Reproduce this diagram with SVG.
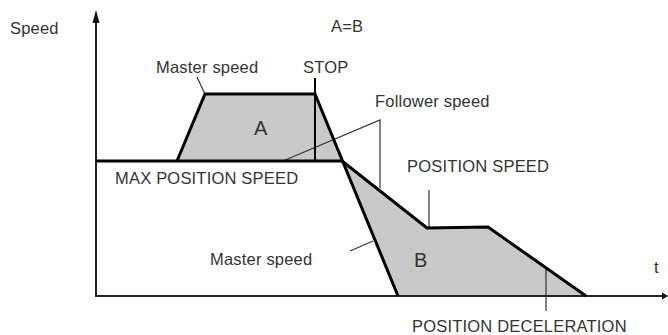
<svg xmlns="http://www.w3.org/2000/svg" width="668" height="335" viewBox="0 0 668 335">
<style>
text{font-family:"Liberation Sans",Arial,sans-serif;font-size:16.5px;letter-spacing:0.2px;fill:#333}
.big{font-size:20px;letter-spacing:0}
.curve{fill:none;stroke:#000;stroke-width:3;stroke-linejoin:miter}
.axis{fill:none;stroke:#222;stroke-width:2}
.lead{fill:none;stroke:#333;stroke-width:1.2}
.area{fill:#c9c9c9;stroke:none}
</style>
<rect width="668" height="335" fill="#fff"/>
<g id="areas">
<polygon class="area" points="177,161 205,94 315,94 342,161"/>
<polygon class="area" points="342,161 427,228 488,227 586,296 398,296"/>
</g>
<g id="axes">
<line class="axis" x1="96" y1="297" x2="96" y2="20"/>
<polygon points="96,10 92.5,23 99.5,23" fill="#111"/>
<line class="axis" x1="96" y1="296" x2="664" y2="296"/>
<polygon points="668,296 662,292.5 662,299.5" fill="#111"/>
</g>
<g id="connectors">
<line class="lead" x1="197" y1="77" x2="205" y2="94"/>
<polyline class="lead" points="283,161 380,120 380,188"/>
<line class="lead" x1="350" y1="251" x2="373" y2="241"/>
<line class="lead" x1="429" y1="190" x2="429" y2="228"/>
<line class="lead" x1="546" y1="268" x2="546" y2="311"/>
<line x1="315" y1="78" x2="315" y2="161" stroke="#000" stroke-width="2"/>
</g>
<g id="curves">
<line class="curve" x1="96" y1="161" x2="342" y2="161"/>
<polyline class="curve" points="177,161 205,94 315,94 398,296"/>
<polyline class="curve" points="342,161 427,228 488,227 586,296"/>
</g>
<g id="labels">
<text x="10" y="34">Speed</text>
<text x="331" y="32">A=B</text>
<text x="156" y="73">Master speed</text>
<text x="303" y="73">STOP</text>
<text x="375" y="107">Follower speed</text>
<text class="big" x="254" y="135">A</text>
<text x="115" y="184">MAX POSITION SPEED</text>
<text x="407" y="172">POSITION SPEED</text>
<text x="210" y="265">Master speed</text>
<text class="big" x="414" y="267">B</text>
<text x="654" y="273">t</text>
<text x="412" y="332">POSITION DECELERATION</text>
</g>
</svg>
